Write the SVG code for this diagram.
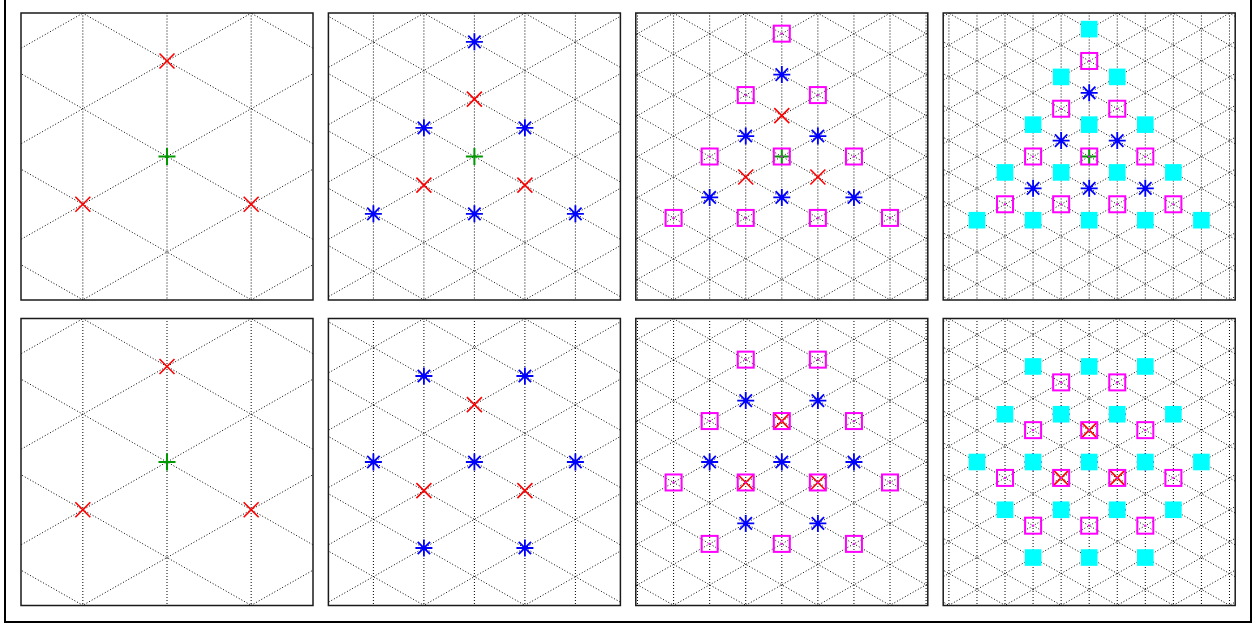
<svg xmlns="http://www.w3.org/2000/svg" width="1255" height="623" viewBox="0 0 1255 623">
<style>
.g{fill:none;stroke:#000;stroke-width:1;stroke-dasharray:1 2}
.frame{fill:none;stroke:#1a1a1a;stroke-width:1.5}
</style>
<defs>
<clipPath id="clip" clipPathUnits="userSpaceOnUse"><rect x="-146" y="-143.5" width="292" height="287"/></clipPath>
<path id="mx" d="M-7.5-7.5L7.5 7.5M-7.5 7.5L7.5-7.5" fill="none" stroke="#ff0000" stroke-width="1.6"/>
<path id="mp" d="M-8.5 0H8.5M0-8.5V8.5" fill="none" stroke="#009900" stroke-width="2"/>
<path id="ms" d="M-8.5 0H8.5M0-8.5V8.5M-6.2-6.2L6.2 6.2M-6.2 6.2L6.2-6.2" fill="none" stroke="#0000ff" stroke-width="1.8"/>
<g id="mq"><rect x="-8" y="-8" width="16" height="16" fill="none" stroke="#ff00ff" stroke-width="2"/><circle r="1.1" fill="#ff00ff"/></g>
<rect id="mc" x="-8.3" y="-8.3" width="16.6" height="16.6" fill="#00ffff"/>

<path id="d1" class="g" d="M-150 -276.2L150 -105.94M-150 -180.67L150 -10.41M-150 -85.13L150 85.13M-150 10.41L150 180.67M-150 105.94L150 276.2"/>
<g id="grid1">
<path class="g" d="M0-144V144M84.17-144V144M-84.17-144V144"/>
<use href="#d1"/><use href="#d1" transform="scale(-1,1)"/>
</g>
<path id="d2" class="g" d="M-150 -257.09L150 -86.83M-150 -199.77L150 -29.51M-150 -142.45L150 27.81M-150 -85.13L150 85.13M-150 -27.81L150 142.45M-150 29.51L150 199.77M-150 86.83L150 257.09"/>
<g id="grid2">
<path class="g" d="M0-144V144M50.5-144V144M-50.5-144V144M101-144V144M-101-144V144"/>
<use href="#d2"/><use href="#d2" transform="scale(-1,1)"/>
</g>
<path id="d3" class="g" d="M-150 -289.85L150 -119.59M-150 -248.91L150 -78.65M-150 -207.96L150 -37.7M-150 -167.02L150 3.24M-150 -126.07L150 44.19M-150 -85.13L150 85.13M-150 -44.19L150 126.07M-150 -3.24L150 167.02M-150 37.7L150 207.96M-150 78.65L150 248.91M-150 119.59L150 289.85"/>
<g id="grid3">
<path class="g" d="M0-144V144M36.07-144V144M-36.07-144V144M72.14-144V144M-72.14-144V144M108.21-144V144M-108.21-144V144M144.28-144V144M-144.28-144V144"/>
<use href="#d3"/><use href="#d3" transform="scale(-1,1)"/>
</g>
<path id="d4" class="g" d="M-150 -308.05L150 -137.79M-150 -276.2L150 -105.94M-150 -244.36L150 -74.1M-150 -212.51L150 -42.25M-150 -180.67L150 -10.41M-150 -148.82L150 21.44M-150 -116.98L150 53.29M-150 -85.13L150 85.13M-150 -53.29L150 116.98M-150 -21.44L150 148.82M-150 10.41L150 180.67M-150 42.25L150 212.51M-150 74.1L150 244.36M-150 105.94L150 276.2M-150 137.79L150 308.05"/>
<g id="grid4">
<path class="g" d="M0-144V144M28.06-144V144M-28.06-144V144M56.11-144V144M-56.11-144V144M84.17-144V144M-84.17-144V144M112.22-144V144M-112.22-144V144M140.28-144V144M-140.28-144V144"/>
<use href="#d4"/><use href="#d4" transform="scale(-1,1)"/>
</g>
</defs>

<rect width="1255" height="623" fill="#ffffff"/>
<rect x="5" y="-3" width="1246" height="625" fill="none" stroke="#000" stroke-width="2"/>

<!-- Top row -->
<g id="panel-top-1" transform="translate(167,156.5)">
<g clip-path="url(#clip)"><use href="#grid1"/></g>
<use href="#mx" x="0" y="-95.54"/><use href="#mx" x="-84.17" y="47.77"/><use href="#mx" x="84.17" y="47.77"/>
<use href="#mp" x="0" y="0"/>
<rect class="frame" x="-146" y="-143.5" width="292" height="287"/>
</g>

<g id="panel-top-2" transform="translate(474.4,156.5)">
<g clip-path="url(#clip)"><use href="#grid2"/></g>
<use href="#mx" x="0" y="-57.32"/><use href="#mx" x="-50.5" y="28.66"/><use href="#mx" x="50.5" y="28.66"/>
<use href="#mp" x="0" y="0"/>
<use href="#ms" x="0" y="-114.64"/><use href="#ms" x="-50.5" y="-28.66"/><use href="#ms" x="50.5" y="-28.66"/>
<use href="#ms" x="0" y="57.32"/><use href="#ms" x="-101" y="57.32"/><use href="#ms" x="101" y="57.32"/>
<rect class="frame" x="-146" y="-143.5" width="292" height="287"/>
</g>

<g id="panel-top-3" transform="translate(781.8,156.5)">
<g clip-path="url(#clip)"><use href="#grid3"/></g>
<use href="#mx" x="0" y="-40.94"/><use href="#mx" x="-36.07" y="20.47"/><use href="#mx" x="36.07" y="20.47"/>
<use href="#mp" x="0" y="0"/>
<use href="#ms" x="0" y="-81.89"/><use href="#ms" x="-36.07" y="-20.47"/><use href="#ms" x="36.07" y="-20.47"/>
<use href="#ms" x="0" y="40.94"/><use href="#ms" x="-72.14" y="40.94"/><use href="#ms" x="72.14" y="40.94"/>
<use href="#mq" x="0" y="-122.83"/>
<use href="#mq" x="-36.07" y="-61.42"/><use href="#mq" x="36.07" y="-61.42"/>
<use href="#mq" x="0" y="0"/><use href="#mq" x="-72.14" y="0"/><use href="#mq" x="72.14" y="0"/>
<use href="#mq" x="-36.07" y="61.42"/><use href="#mq" x="36.07" y="61.42"/><use href="#mq" x="-108.21" y="61.42"/><use href="#mq" x="108.21" y="61.42"/>
<rect class="frame" x="-146" y="-143.5" width="292" height="287"/>
</g>

<g id="panel-top-4" transform="translate(1089.2,156.5)">
<g clip-path="url(#clip)"><use href="#grid4"/></g>
<use href="#mx" x="0" y="-31.85"/><use href="#mx" x="-28.06" y="15.92"/><use href="#mx" x="28.06" y="15.92"/>
<use href="#mp" x="0" y="0"/>
<use href="#ms" x="0" y="-63.69"/><use href="#ms" x="-28.06" y="-15.92"/><use href="#ms" x="28.06" y="-15.92"/>
<use href="#ms" x="0" y="31.85"/><use href="#ms" x="-56.11" y="31.85"/><use href="#ms" x="56.11" y="31.85"/>
<use href="#mq" x="0" y="-95.54"/>
<use href="#mq" x="-28.06" y="-47.77"/><use href="#mq" x="28.06" y="-47.77"/>
<use href="#mq" x="0" y="0"/><use href="#mq" x="-56.11" y="0"/><use href="#mq" x="56.11" y="0"/>
<use href="#mq" x="-28.06" y="47.77"/><use href="#mq" x="28.06" y="47.77"/><use href="#mq" x="-84.17" y="47.77"/><use href="#mq" x="84.17" y="47.77"/>
<use href="#mc" x="0" y="-127.38"/>
<use href="#mc" x="-28.06" y="-79.61"/><use href="#mc" x="28.06" y="-79.61"/>
<use href="#mc" x="0" y="-31.85"/><use href="#mc" x="-56.11" y="-31.85"/><use href="#mc" x="56.11" y="-31.85"/>
<use href="#mc" x="-28.06" y="15.92"/><use href="#mc" x="28.06" y="15.92"/><use href="#mc" x="-84.17" y="15.92"/><use href="#mc" x="84.17" y="15.92"/>
<use href="#mc" x="0" y="63.69"/><use href="#mc" x="-56.11" y="63.69"/><use href="#mc" x="56.11" y="63.69"/><use href="#mc" x="-112.22" y="63.69"/><use href="#mc" x="112.22" y="63.69"/>
<rect class="frame" x="-146" y="-143.5" width="292" height="287"/>
</g>

<!-- Bottom row -->
<g id="panel-bottom-1" transform="translate(167,462)">
<g clip-path="url(#clip)"><use href="#grid1"/></g>
<use href="#mx" x="0" y="-95.54"/><use href="#mx" x="-84.17" y="47.77"/><use href="#mx" x="84.17" y="47.77"/>
<use href="#mp" x="0" y="0"/>
<rect class="frame" x="-146" y="-143.5" width="292" height="287"/>
</g>

<g id="panel-bottom-2" transform="translate(474.4,462)">
<g clip-path="url(#clip)"><use href="#grid2"/></g>
<use href="#mx" x="0" y="-57.32"/><use href="#mx" x="-50.5" y="28.66"/><use href="#mx" x="50.5" y="28.66"/>
<use href="#ms" x="-50.5" y="-85.98"/><use href="#ms" x="50.5" y="-85.98"/>
<use href="#ms" x="0" y="0"/><use href="#ms" x="-101" y="0"/><use href="#ms" x="101" y="0"/>
<use href="#ms" x="-50.5" y="85.98"/><use href="#ms" x="50.5" y="85.98"/>
<rect class="frame" x="-146" y="-143.5" width="292" height="287"/>
</g>

<g id="panel-bottom-3" transform="translate(781.8,462)">
<g clip-path="url(#clip)"><use href="#grid3"/></g>
<use href="#mx" x="0" y="-40.94"/><use href="#mx" x="-36.07" y="20.47"/><use href="#mx" x="36.07" y="20.47"/>
<use href="#ms" x="-36.07" y="-61.42"/><use href="#ms" x="36.07" y="-61.42"/>
<use href="#ms" x="0" y="0"/><use href="#ms" x="-72.14" y="0"/><use href="#ms" x="72.14" y="0"/>
<use href="#ms" x="-36.07" y="61.42"/><use href="#ms" x="36.07" y="61.42"/>
<use href="#mq" x="-36.07" y="-102.36"/><use href="#mq" x="36.07" y="-102.36"/>
<use href="#mq" x="0" y="-40.94"/><use href="#mq" x="-72.14" y="-40.94"/><use href="#mq" x="72.14" y="-40.94"/>
<use href="#mq" x="-36.07" y="20.47"/><use href="#mq" x="36.07" y="20.47"/><use href="#mq" x="-108.21" y="20.47"/><use href="#mq" x="108.21" y="20.47"/>
<use href="#mq" x="0" y="81.89"/><use href="#mq" x="-72.14" y="81.89"/><use href="#mq" x="72.14" y="81.89"/>
<rect class="frame" x="-146" y="-143.5" width="292" height="287"/>
</g>

<g id="panel-bottom-4" transform="translate(1089.2,462)">
<g clip-path="url(#clip)"><use href="#grid4"/></g>
<use href="#mx" x="0" y="-31.85"/><use href="#mx" x="-28.06" y="15.92"/><use href="#mx" x="28.06" y="15.92"/>
<use href="#ms" x="-28.06" y="-47.77"/><use href="#ms" x="28.06" y="-47.77"/>
<use href="#ms" x="0" y="0"/><use href="#ms" x="-56.11" y="0"/><use href="#ms" x="56.11" y="0"/>
<use href="#ms" x="-28.06" y="47.77"/><use href="#ms" x="28.06" y="47.77"/>
<use href="#mq" x="-28.06" y="-79.61"/><use href="#mq" x="28.06" y="-79.61"/>
<use href="#mq" x="0" y="-31.85"/><use href="#mq" x="-56.11" y="-31.85"/><use href="#mq" x="56.11" y="-31.85"/>
<use href="#mq" x="-28.06" y="15.92"/><use href="#mq" x="28.06" y="15.92"/><use href="#mq" x="-84.17" y="15.92"/><use href="#mq" x="84.17" y="15.92"/>
<use href="#mq" x="0" y="63.69"/><use href="#mq" x="-56.11" y="63.69"/><use href="#mq" x="56.11" y="63.69"/>
<use href="#mc" x="0" y="-95.54"/><use href="#mc" x="-56.11" y="-95.54"/><use href="#mc" x="56.11" y="-95.54"/>
<use href="#mc" x="-28.06" y="-47.77"/><use href="#mc" x="28.06" y="-47.77"/><use href="#mc" x="-84.17" y="-47.77"/><use href="#mc" x="84.17" y="-47.77"/>
<use href="#mc" x="0" y="0"/><use href="#mc" x="-56.11" y="0"/><use href="#mc" x="56.11" y="0"/><use href="#mc" x="-112.22" y="0"/><use href="#mc" x="112.22" y="0"/>
<use href="#mc" x="-28.06" y="47.77"/><use href="#mc" x="28.06" y="47.77"/><use href="#mc" x="-84.17" y="47.77"/><use href="#mc" x="84.17" y="47.77"/>
<use href="#mc" x="0" y="95.54"/><use href="#mc" x="-56.11" y="95.54"/><use href="#mc" x="56.11" y="95.54"/>
<rect class="frame" x="-146" y="-143.5" width="292" height="287"/>
</g>
</svg>
